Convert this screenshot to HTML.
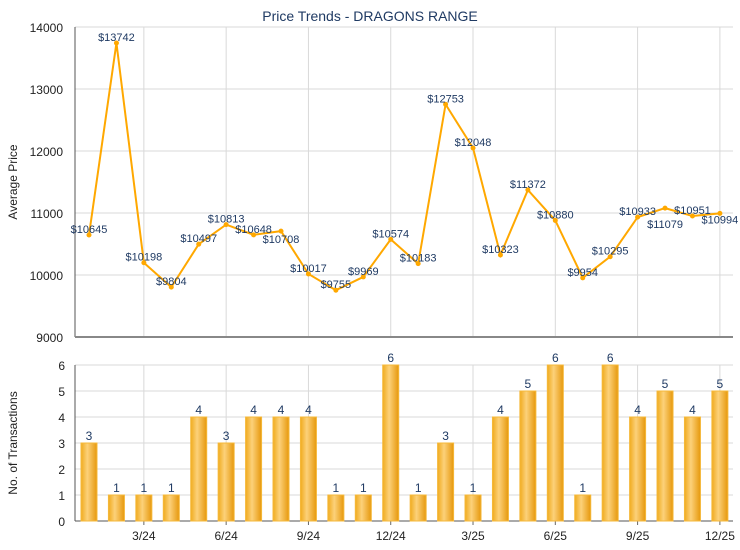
<!DOCTYPE html>
<html><head><meta charset="utf-8"><style>
body{margin:0;background:#fff;width:740px;height:550px;overflow:hidden}
svg{display:block;font-family:"Liberation Sans",Arial,sans-serif}
</style></head><body>
<svg id="s" width="740" height="550" xmlns="http://www.w3.org/2000/svg">
<defs>
<linearGradient id="g" x1="0" x2="1" y1="0" y2="0">
<stop offset="0" stop-color="#f0ab1e"/><stop offset="0.4" stop-color="#fcd17a"/><stop offset="1" stop-color="#e6980c"/>
</linearGradient>
</defs>
<text x="370" y="21" text-anchor="middle" font-size="14" fill="#1f3a63">Price Trends - DRAGONS RANGE</text>
<text transform="translate(17,182) rotate(-90)" text-anchor="middle" font-size="12" fill="#222">Average Price</text>
<text transform="translate(17,443) rotate(-90)" text-anchor="middle" font-size="12" fill="#222">No. of Transactions</text>
<g id="c"></g>
</svg>
<script>
var ns="http://www.w3.org/2000/svg",c=document.getElementById('c');
function el(t,a,txt){var e=document.createElementNS(ns,t);for(var k in a)e.setAttribute(k,a[k]);if(txt!=null)e.textContent=txt;c.appendChild(e);return e;}
var L=75,R=733,T1=27,B1=337,T2=365,B2=521;
var px=[10645,13742,10198,9804,10497,10813,10648,10708,10017,9755,9969,10574,10183,12753,12048,10323,11372,10880,9954,10295,10933,11079,10951,10994];
var n=[3,1,1,1,4,3,4,4,4,1,1,6,1,3,1,4,5,6,1,6,4,5,4,5];
var off={7:12,21:20,23:10};
function X(i){return 89+i*27.43;}
function Y1(v){return B1-(v-9000)*(B1-T1)/5000;}
function Y2(v){return B2-v*(B2-T2)/6;}
for(var v=9000;v<=14000;v+=1000){var y=Y1(v);el('line',{x1:L,x2:R,y1:y,y2:y,stroke:'#d9d9d9'});el('text',{x:L-12,y:y+5,'text-anchor':'end','font-size':12,fill:'#222'},v);}
for(var v=0;v<=6;v++){var y=Y2(v);el('line',{x1:L,x2:R,y1:y,y2:y,stroke:'#d9d9d9'});el('text',{x:L-10,y:y+5,'text-anchor':'end','font-size':12,fill:'#222'},v);}
var labs=['3/24','6/24','9/24','12/24','3/25','6/25','9/25','12/25'];
for(var k=0;k<8;k++){var x=X(2+3*k);el('line',{x1:x,x2:x,y1:T1,y2:B1,stroke:'#d9d9d9'});el('line',{x1:x,x2:x,y1:T2,y2:B2,stroke:'#d9d9d9'});el('line',{x1:x,x2:x,y1:B2,y2:B2+4,stroke:'#666'});el('text',{x:x,y:540,'text-anchor':'middle','font-size':12,fill:'#222'},labs[k]);}
el('line',{x1:L,x2:L,y1:T1,y2:B1,stroke:'#555'});el('line',{x1:L,x2:R,y1:B1,y2:B1,stroke:'#888','stroke-width':2});
el('line',{x1:L,x2:L,y1:T2,y2:B2,stroke:'#555'});el('line',{x1:L,x2:R,y1:B2,y2:B2,stroke:'#555'});
for(var i=0;i<24;i++){var x=X(i),y=Y2(n[i]);el('rect',{x:x-8,y:y,width:16,height:B2-y,fill:'url(#g)',stroke:'#f5b83a','stroke-width':1});el('text',{x:x,y:y-3,'text-anchor':'middle','font-size':12,fill:'#1f3a63'},n[i]);}
var pts=px.map(function(v,i){return X(i)+','+Y1(v)}).join(' ');
el('polyline',{points:pts,fill:'none',stroke:'#ffa800','stroke-width':2});
for(var i=0;i<24;i++){var x=X(i),y=Y1(px[i]);el('circle',{cx:x,cy:y,r:2.5,fill:'#ffa800'});el('text',{x:x,y:y+(off[i]!=null?off[i]:-2),'text-anchor':'middle','font-size':11,fill:'#1f3a63'},'$'+px[i]);}
</script>
</body></html>
